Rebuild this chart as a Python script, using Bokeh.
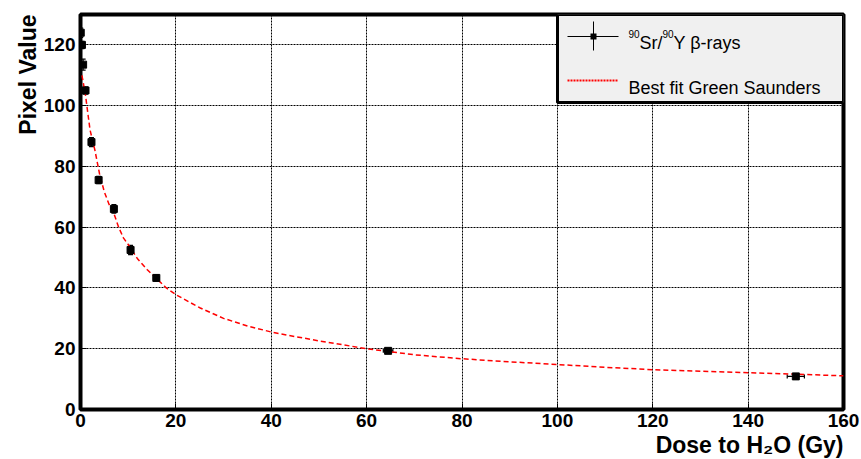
import math
from bokeh.plotting import figure
from bokeh.models import (Range1d, FixedTicker, ColumnDataSource, Whisker, TeeHead,
                          Label, BoxAnnotation, Arrow, Title)
from bokeh.embed import file_html
from bokeh.resources import INLINE

# ---- data ----
dose = [0.05, 0.3, 0.55, 1.05, 2.3, 3.8, 7.0, 10.5, 15.9, 64.5, 150.0]
pixel = [124.0, 120.0, 113.5, 105.0, 88.0, 75.5, 66.0, 52.5, 43.3, 19.3, 10.9]
pixel_err = [1.5, 1.2, 1.8, 1.2, 1.5, 1.2, 1.4, 1.5, 1.0, 0.6, 0.6]
dose_err = [0.05, 0.1, 0.1, 0.1, 0.2, 0.3, 0.4, 0.5, 0.6, 1.0, 1.8]

fit_dose = [0.3, 1, 2, 3, 4, 5, 6, 7, 8, 9, 10, 12, 14, 16, 18, 20, 25, 30, 35, 40,
            45, 50, 60, 70, 80, 90, 100, 110, 120, 130, 140, 150, 160]
fit_pixel = [110, 104, 92, 85.5, 77.5, 71.6, 67.5, 64.5, 60, 56.5, 54.3, 49.5, 46, 43,
             40, 37.8, 33.5, 30, 27.5, 25.5, 24, 22.6, 20, 18, 16.7, 15.7, 14.8, 13.9,
             13.1, 12.6, 12.1, 11.6, 11.1]

x_ticks = [0, 20, 40, 60, 80, 100, 120, 140, 160]
y_ticks = [0, 20, 40, 60, 80, 100, 120]

x_title = "Dose to H\u2082O (Gy)"
y_title = "Pixel Value"
legend_fit = "Best fit Green Saunders"

FONT = "Liberation Sans"

p = figure(width=861, height=459, x_range=Range1d(0, 160), y_range=Range1d(0, 130),
           output_backend="svg", toolbar_location=None,
           min_border_left=80, min_border_right=18, min_border_top=14, min_border_bottom=50)
p.background_fill_color = "white"
p.border_fill_color = "white"
p.outline_line_color = "black"
p.outline_line_width = 4

for ax, ticks in ((p.xaxis[0], x_ticks), (p.yaxis[0], y_ticks)):
    ax.ticker = FixedTicker(ticks=ticks)
    ax.axis_line_color = None
    ax.major_tick_out = 0
    ax.major_tick_in = 6
    ax.major_tick_line_color = "black"
    ax.minor_tick_line_color = None
    ax.major_label_text_font = FONT
    ax.major_label_text_font_style = "bold"
    ax.major_label_text_font_size = "19px"
    ax.major_label_text_color = "black"
p.xaxis.major_label_standoff = 4
p.yaxis.major_label_standoff = 5

p.xgrid.ticker = FixedTicker(ticks=x_ticks)
p.ygrid.ticker = FixedTicker(ticks=y_ticks)
for g in (p.xgrid, p.ygrid):
    g.grid_line_color = "black"
    g.grid_line_dash = "2 1"
    g.grid_line_width = 1

# fit curve
p.line(fit_dose, fit_pixel, line_color="#ff0000", line_width=1.5, line_dash="5 3")

# data with error bars
src = ColumnDataSource(dict(
    dose=dose, pixel=pixel,
    ylo=[v - e for v, e in zip(pixel, pixel_err)],
    yhi=[v + e for v, e in zip(pixel, pixel_err)],
    xlo=[v - e for v, e in zip(dose, dose_err)],
    xhi=[v + e for v, e in zip(dose, dose_err)],
))
p.add_layout(Whisker(source=src, base="dose", lower="ylo", upper="yhi", dimension="height",
                     line_color="black", line_width=1.2,
                     upper_head=TeeHead(size=5, line_color="black", line_width=1.2),
                     lower_head=TeeHead(size=5, line_color="black", line_width=1.2)))
p.add_layout(Whisker(source=src, base="pixel", lower="xlo", upper="xhi", dimension="width",
                     line_color="black", line_width=1.2,
                     upper_head=TeeHead(size=4, line_color="black", line_width=1.2),
                     lower_head=TeeHead(size=4, line_color="black", line_width=1.2)))
p.scatter("dose", "pixel", source=src, marker="square", size=7, color="black")

# axis titles (right aligned, ROOT style)
p.add_layout(Title(text=y_title, align="right", standoff=0,
                   text_font=FONT, text_font_style="bold", text_font_size="23px",
                   text_color="black"), "left")
p.add_layout(Title(text=x_title, align="right", standoff=0,
                   text_font=FONT, text_font_style="bold", text_font_size="23px",
                   text_color="black"), "below")

# legend box (screen units, relative to plot frame)
p.add_layout(BoxAnnotation(left=477, right=763, bottom=307, top=395,
                           left_units="screen", right_units="screen",
                           bottom_units="screen", top_units="screen",
                           fill_color="#f0f0f0", fill_alpha=1.0,
                           line_color="black", line_width=3, line_alpha=1.0))
p.add_layout(Arrow(end=None, x_start=487, y_start=373, x_end=538, y_end=373,
                   start_units="screen", end_units="screen", line_color="black", line_width=1))
p.add_layout(Arrow(end=None, x_start=513, y_start=359, x_end=513, y_end=388,
                   start_units="screen", end_units="screen", line_color="black", line_width=1))
p.add_layout(Arrow(end=None, x_start=510, y_start=373, x_end=516, y_end=373,
                   start_units="screen", end_units="screen", line_color="black", line_width=6))
p.add_layout(Arrow(end=None, x_start=487, y_start=329, x_end=538, y_end=329,
                   start_units="screen", end_units="screen", line_color="#ff0000",
                   line_width=2, line_dash="2 1"))

# legend texts: "90Sr/90Y beta-rays" with raised mass numbers
legend_parts = [("90", 548, 376, "10px"), ("Sr/", 559, 367, "18px"),
                ("90", 582, 376, "10px"), ("Y \u03b2-rays", 593, 367, "18px")]
for txt, lx, ly, fs in legend_parts:
    p.add_layout(Label(x=lx, y=ly, x_units="screen", y_units="screen", text=txt,
                       text_align="left", text_baseline="alphabetic",
                       text_font=FONT, text_font_size=fs, text_color="black"))
p.add_layout(Label(x=548, y=322, x_units="screen", y_units="screen", text=legend_fit,
                   text_align="left", text_baseline="alphabetic",
                   text_font=FONT, text_font_size="18px", text_color="black"))

open("out.html", "w").write(file_html(p, INLINE))
